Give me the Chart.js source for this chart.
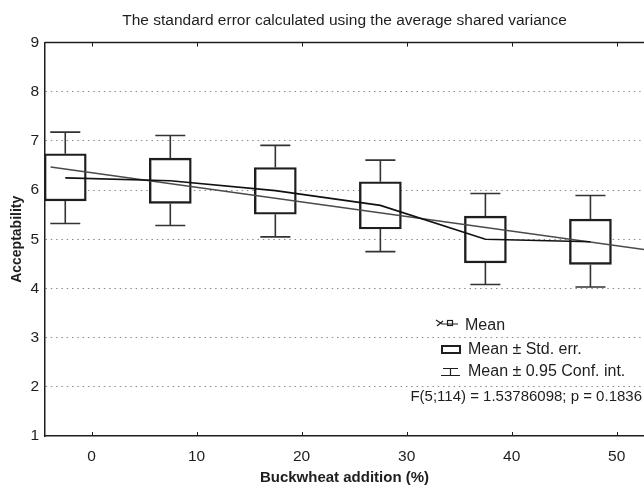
<!DOCTYPE html>
<html>
<head>
<meta charset="utf-8">
<script src="https://cdn.jsdelivr.net/npm/chart.js@4"></script>
<style>
  html, body { margin: 0; padding: 0; background: #fff; }
  #wrap { width: 644px; height: 495px; }
</style>
</head>
<body>
<div id="wrap"><canvas id="c" width="644" height="495"></canvas></div>
<script>
// Buckwheat addition groups (%), tick labels and the values
const groups = [0, 10, 20, 30, 40, 50];
const xTicks = [0, 10, 20, 30, 40, 50];
const yTicks = [1, 2, 3, 4, 5, 6, 7, 8, 9];

const means   = [6.25, 6.19, 5.99, 5.69, 5.00, 4.95];
const seHigh  = [6.74, 6.65, 6.46, 6.17, 5.47, 5.41];   // mean + std. err.
const seLow   = [5.78, 5.73, 5.51, 5.21, 4.52, 4.49];   // mean - std. err.
const ciHigh  = [7.18, 7.11, 6.91, 6.61, 5.93, 5.89];   // mean + 0.95 conf. int.
const ciLow   = [5.32, 5.28, 5.05, 4.75, 4.08, 4.03];   // mean - 0.95 conf. int.

// straight fitted trend (end points as seen on the plot)
const fitX = [-3.9, 52.6];
const fitY = [6.47, 4.79];

const titleText = 'The standard error calculated using the average shared variance';
const statText = 'F(5;114) = 1.53786098; p = 0.1836';

// boxes are drawn a little to the left of the tick marks in the original
const GROUP_SHIFT = -2.5;
const CAP_HALF = 1.43;
const FONT = '"Liberation Sans", Arial, sans-serif';
const INK = '#1e1e1e';

const pos = groups.map(g => g + GROUP_SHIFT);

// whisker stems and caps as one broken line
const whiskers = [];
pos.forEach((x, i) => {
    whiskers.push({ x: x, y: ciHigh[i] }, { x: x, y: seHigh[i] }, { x: x, y: null });
    whiskers.push({ x: x, y: seLow[i] }, { x: x, y: ciLow[i] }, { x: x, y: null });
    whiskers.push({ x: x - CAP_HALF, y: ciHigh[i] }, { x: x + CAP_HALF, y: ciHigh[i] }, { x: x, y: null });
    whiskers.push({ x: x - CAP_HALF, y: ciLow[i] }, { x: x + CAP_HALF, y: ciLow[i] }, { x: x, y: null });
});

// frame top line, inward ticks, legend and the F statistic
const decor = {
    id: 'decor',
    afterDraw(chart) {
        const ctx = chart.ctx;
        const a = chart.chartArea;
        const xs = chart.scales.x;
        ctx.save();
        ctx.strokeStyle = INK;
        ctx.lineWidth = 1.5;
        ctx.beginPath();
        ctx.moveTo(a.left, a.top);
        ctx.lineTo(a.right, a.top);
        ctx.stroke();

        ctx.lineWidth = 1;
        xTicks.forEach(v => {
            const px = Math.round(xs.getPixelForValue(v)) + 0.5;
            ctx.beginPath();
            ctx.moveTo(px, a.bottom);
            ctx.lineTo(px, a.bottom - 4);
            ctx.moveTo(px, a.top);
            ctx.lineTo(px, a.top + 4);
            ctx.stroke();
        });

        // legend symbols
        ctx.lineWidth = 1.2;
        ctx.beginPath();
        ctx.moveTo(436, 320);
        ctx.lineTo(442, 324);
        ctx.lineTo(458, 324);
        ctx.moveTo(437, 326);
        ctx.lineTo(443, 321);
        ctx.stroke();
        ctx.strokeRect(447.5, 320.5, 5, 5);

        ctx.lineWidth = 2;
        ctx.strokeRect(442, 346, 18, 7);

        ctx.lineWidth = 1.2;
        ctx.beginPath();
        ctx.moveTo(443, 368.5);
        ctx.lineTo(458, 368.5);
        ctx.moveTo(450.5, 368.5);
        ctx.lineTo(450.5, 375.5);
        ctx.moveTo(441, 375.5);
        ctx.lineTo(460, 375.5);
        ctx.stroke();

        ctx.fillStyle = INK;
        ctx.font = '16px ' + FONT;
        ctx.textBaseline = 'middle';
        ctx.textAlign = 'left';
        ctx.fillText('Mean', 465, 326);
        ctx.fillText('Mean ± Std. err.', 468, 350);
        ctx.fillText('Mean ± 0.95 Conf. int.', 468, 372);
        ctx.font = '15px ' + FONT;
        ctx.textAlign = 'right';
        ctx.fillText(statText, 642, 397);
        ctx.restore();
    }
};

new Chart(document.getElementById('c'), {
    type: 'bar',
    data: {
        datasets: [
            {
                type: 'line',
                label: 'Mean',
                data: pos.map((x, i) => ({ x: x, y: means[i] })),
                borderColor: '#111',
                borderWidth: 1.6,
                pointRadius: 0,
                tension: 0,
                order: 0
            },
            {
                type: 'line',
                label: 'Fit',
                data: fitX.map((x, i) => ({ x: x, y: fitY[i] })),
                borderColor: '#4a4a4a',
                borderWidth: 1.5,
                pointRadius: 0,
                order: 1
            },
            {
                type: 'line',
                label: 'Conf. int.',
                data: whiskers,
                borderColor: '#333',
                borderWidth: 1.6,
                pointRadius: 0,
                spanGaps: false,
                order: 2
            },
            {
                type: 'bar',
                label: 'Std. err.',
                data: pos.map((x, i) => ({ x: x, y: [seLow[i], seHigh[i]] })),
                backgroundColor: '#fff',
                borderColor: INK,
                borderWidth: 2.4,
                borderSkipped: false,
                barThickness: 42,
                order: 3
            }
        ]
    },
    options: {
        responsive: false,
        animation: false,
        layout: { padding: 0 },
        plugins: {
            legend: { display: false },
            tooltip: { enabled: false },
            title: {
                display: true,
                fullSize: false,
                text: titleText,
                color: INK,
                font: { family: FONT, size: 15.5, weight: 'normal' },
                padding: { top: 11, bottom: 13 }
            }
        },
        scales: {
            x: {
                type: 'linear',
                offset: false,
                min: -4.43,
                max: 52.6,
                afterBuildTicks: s => { s.ticks = xTicks.map(v => ({ value: v })); },
                afterFit: s => { s.height = 59; },
                grid: { display: false, drawTicks: false, offset: false },
                border: { display: true, color: INK, width: 1.5 },
                ticks: {
                    color: INK,
                    padding: 11,
                    font: { family: FONT, size: 15.5 }
                },
                title: {
                    display: true,
                    text: 'Buckwheat addition (%)',
                    color: INK,
                    font: { family: FONT, size: 15, weight: 'bold' },
                    padding: { top: 0, bottom: 8 }
                }
            },
            y: {
                type: 'linear',
                min: 1,
                max: 9,
                afterBuildTicks: s => { s.ticks = yTicks.map(v => ({ value: v })); },
                afterFit: s => { s.width = 45; },
                grid: {
                    drawTicks: false,
                    color: c => (c.tick && (c.tick.value === 1 || c.tick.value === 9)) ? 'rgba(0,0,0,0)' : '#8a8a8a',
                    lineWidth: 1
                },
                border: { display: true, color: INK, width: 1.5, dash: [1.5, 3.8] },
                ticks: {
                    color: INK,
                    padding: 6,
                    font: { family: FONT, size: 15.5 }
                },
                title: {
                    display: true,
                    text: 'Acceptability',
                    color: INK,
                    font: { family: FONT, size: 14, weight: 'bold' },
                    padding: { top: 9, bottom: 0 }
                }
            }
        }
    },
    plugins: [decor]
});
</script>
</body>
</html>
